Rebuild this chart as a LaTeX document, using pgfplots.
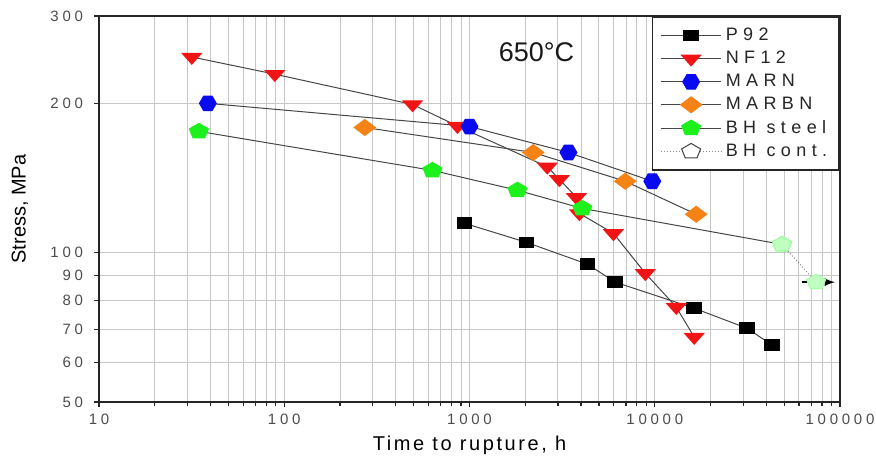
\documentclass[border=0pt]{standalone}
\usepackage{fontspec}
\setmainfont{Liberation Sans}
\usepackage{pgfplots}
\pgfplotsset{compat=1.18}

% flat-topped hexagon for the MARN series
\pgfdeclareplotmark{hexagon*}{%
  \pgfpathmoveto{\pgfqpointpolar{0}{\pgfplotmarksize}}%
  \pgfpathlineto{\pgfqpointpolar{60}{\pgfplotmarksize}}%
  \pgfpathlineto{\pgfqpointpolar{120}{\pgfplotmarksize}}%
  \pgfpathlineto{\pgfqpointpolar{180}{\pgfplotmarksize}}%
  \pgfpathlineto{\pgfqpointpolar{240}{\pgfplotmarksize}}%
  \pgfpathlineto{\pgfqpointpolar{300}{\pgfplotmarksize}}%
  \pgfpathclose
  \pgfusepathqfillstroke}

\definecolor{nfred}{RGB}{240,20,20}
\definecolor{marnblue}{RGB}{10,10,240}
\definecolor{marbnorange}{RGB}{245,130,20}
\definecolor{bhgreen}{RGB}{30,240,30}
\definecolor{linegray}{RGB}{70,70,70}

\begin{document}
\begin{tikzpicture}
  \begin{axis}[
      at={(0,0)}, anchor=south west,
      scale only axis, width=370.5pt, height=193pt,
      xmode=log, ymode=log,
      xmin=10, xmax=100000, ymin=50, ymax=300,
      xtick={10,100,1000,10000,100000},
      xticklabels={10,100,1000,10000,100000},
      minor xtick={20,30,40,50,60,70,80,90,200,300,400,500,600,700,800,900,
                   2000,3000,4000,5000,6000,7000,8000,9000,
                   20000,30000,40000,50000,60000,70000,80000,90000},
      ytick={50,60,70,80,90,100,200,300},
      yticklabels={50,60,70,80,90,100,200,300},
      yminorticks=false,
      tick pos=left,
      xmajorgrids, xminorgrids, ymajorgrids,
      grid style={black!22, line width=0.5pt},
      axis line style={line width=1pt, black!85},
      tick align=outside, major tick length=2.5pt, minor tick length=1.8pt,
      tick style={black!85, line width=0.6pt},
      tick label style={black!70, font=\fontsize{7.5}{9}\selectfont\addfontfeatures{LetterSpace=25}},
      yticklabel style={xshift=-2pt},
      xlabel={Time to rupture, h},
      ylabel={Stress, MPa},
      xlabel style={at={(axis description cs:0.5,0)}, anchor=center, yshift=-21.5pt,
                    font=\fontsize{10}{12}\selectfont\addfontfeatures{LetterSpace=13}},
      ylabel style={at={(axis description cs:-0.1066,0.5)}, anchor=center,
                    font=\fontsize{10}{12}\selectfont},
      legend style={at={(1,1)}, anchor=north east, draw=black!85, line width=0.8pt,
                    font=\fontsize{9}{10.5}\selectfont\addfontfeatures{LetterSpace=30},
                    text=black!85, row sep=-0.2pt, inner ysep=3.5pt, inner xsep=4pt},
      legend cell align=left,
      legend image code/.code={%
        \draw[mark repeat=2, mark phase=2, #1] plot coordinates {(0cm,0cm) (0.53cm,0cm) (1.06cm,0cm)};},
    ]
    % P92
    \addplot[linegray, line width=0.5pt, mark=square*, mark size=3.7pt,
             mark options={solid, fill=black, draw=black, yscale=0.72}]
      coordinates {(940,114.6) (2030,104.9) (4330,94.8) (6120,87.2)
                   (16300,77.3) (31500,70.4) (43000,65.1)};
    % NF12
    \addplot[linegray, line width=0.5pt, mark=triangle*, mark size=5.5pt,
             mark options={solid, fill=nfred, draw=nfred, yscale=-0.65}]
      coordinates {(31.7,248) (88.9,229) (493,199) (861,180) (2630,149)
                   (3055,140.6) (3775,129.3) (3920,120) (5980,109.4)
                   (8890,90.9) (13060,77.7) (16330,67.6)};
    % MARN
    \addplot[linegray, line width=0.5pt, mark=hexagon*, mark size=4.2pt,
             mark options={solid, fill=marnblue, draw=marnblue}]
      coordinates {(38.7,200) (1000,179.6) (3420,159.2) (9700,139.3)};
    % MARBN
    \addplot[linegray, line width=0.5pt, mark=diamond*, mark size=5.3pt,
             mark options={solid, fill=marbnorange, draw=marbnorange, rotate=90}]
      coordinates {(272,178.8) (2210,159.2) (6930,139.3) (16740,119.5)};
    % BH steel
    \addplot[linegray, line width=0.5pt, mark=pentagon*, mark size=5pt,
             mark options={solid, fill=bhgreen, draw=bhgreen, yscale=0.8}]
      coordinates {(34.6,175.6) (631,146.5) (1815,133.6) (4064,122.8) (48650,103.9)};
    % BH cont.
    \addplot[black!45, densely dotted, line width=0.5pt, mark=pentagon*, mark size=5pt,
             mark options={solid, fill=green!25, draw=green!35, yscale=0.8},
             legend image post style={mark options={solid, fill=white, draw=black!75, yscale=0.8}}]
      coordinates {(48650,103.9) (74300,87.2)};
    \draw[-latex, line width=0.8pt, black] (axis cs:62000,87.2) -- (axis cs:94000,87.2);
    \node[font=\fontsize{13.5}{16}\selectfont, black!90] at (axis cs:2300,253) {650°C};
    \legend{P92,NF12,MARN,MARBN,BH steel,BH cont.}
  \end{axis}
  \pgfresetboundingbox
  \path[use as bounding box] (-49.5pt,-32pt) rectangle (388.5pt,201pt);
\end{tikzpicture}
\end{document}
